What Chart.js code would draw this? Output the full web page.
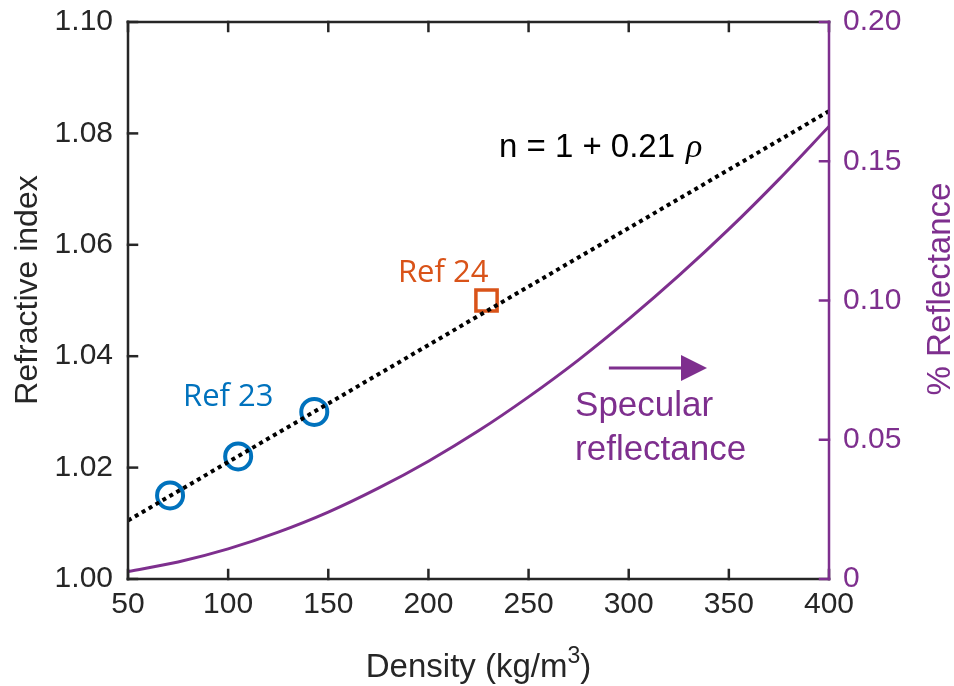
<!DOCTYPE html>
<html>
<head>
<meta charset="utf-8">
<script src="https://cdn.jsdelivr.net/npm/chart.js@4.4.1/dist/chart.umd.min.js"></script>
<style>
  html, body { margin: 0; padding: 0; background: #fff; }
  #wrap { width: 954px; height: 686px; position: relative; }
</style>
</head>
<body>
<div id="wrap"><canvas id="chart"></canvas></div>
<script>
// Density axis ticks (kg/m^3) and the two y-axis tick sets
const DENSITY_TICKS     = [50, 100, 150, 200, 250, 300, 350, 400];
const INDEX_TICKS       = [1.00, 1.02, 1.04, 1.06, 1.08, 1.10];
const REFLECTANCE_TICKS = [0, 0.05, 0.10, 0.15, 0.20];

// Linear fit n = 1 + 0.21 rho
const FIT_DENSITY = [50, 400];
const FIT_INDEX   = [1.0105, 1.084];

// Specular reflectance (%) along the density range
const CURVE_DENSITY     = [50, 75, 100, 125, 150, 175, 200, 225, 250, 275, 300, 325, 350, 375, 400];
const CURVE_REFLECTANCE = [0.0027, 0.0061, 0.0108, 0.0168, 0.0240, 0.0326, 0.0423, 0.0532,
                           0.0654, 0.0787, 0.0933, 0.1089, 0.1256, 0.1435, 0.1625];

// Measured points
const REF23_DENSITY = [71, 105, 143];
const REF23_INDEX   = [1.015, 1.022, 1.030];
const REF24_DENSITY = [229];
const REF24_INDEX   = [1.050];

const INK    = '#262626';
const PURPLE = '#7E2F8E';
const BLUE   = '#0072BD';
const ORANGE = '#D95319';
const SANS   = '"Liberation Sans", Arial, sans-serif';

const pts = (xs, ys) => xs.map((x, i) => ({ x, y: ys[i] }));
const fixTicks = (values) => (scale) => { scale.ticks = values.map((v) => ({ value: v })); };
const noEdgePadding = (s) => {
    s.paddingTop = 0; s.paddingBottom = 0; s.paddingLeft = 0; s.paddingRight = 0;
};

// Text labels placed in data units (density, refractive index)
const LABELS = [
    { text: 'Ref 24',      x: 184.8, y: 1.0533, color: ORANGE, font: '31px "Open Sans", sans-serif' },
    { text: 'Ref 23',      x: 77.5,  y: 1.0311, color: BLUE,   font: '31px "Open Sans", sans-serif' },
    { text: 'Specular',    x: 273.2, y: 1.0293, color: PURPLE, font: '35px ' + SANS },
    { text: 'reflectance', x: 273.2, y: 1.0214, color: PURPLE, font: '35px ' + SANS }
];
const FIT_LABEL = { x: 235.2, y: 1.0758 };
const ARROW     = { from: 290.1, to: 339.1, y: 1.0379 };

const annotations = {
    id: 'annotations',
    afterDatasetsDraw(chart) {
        const { ctx, scales: { x, y } } = chart;
        ctx.save();
        ctx.textBaseline = 'alphabetic';
        ctx.textAlign = 'left';

        LABELS.forEach((l) => {
            ctx.font = l.font;
            ctx.fillStyle = l.color;
            ctx.fillText(l.text, x.getPixelForValue(l.x), y.getPixelForValue(l.y));
        });

        // fit equation, rho set in italic serif
        const fx = x.getPixelForValue(FIT_LABEL.x);
        const fy = y.getPixelForValue(FIT_LABEL.y);
        ctx.font = '33px ' + SANS;
        ctx.fillStyle = '#000';
        const eq = 'n = 1 + 0.21';
        ctx.fillText(eq, fx, fy);
        const w = ctx.measureText(eq).width;
        ctx.font = 'italic 34px "Liberation Serif", "DejaVu Serif", serif';
        ctx.fillText('\u03C1', fx + w + 11, fy);

        // arrow pointing at the right-hand axis
        const ax0 = x.getPixelForValue(ARROW.from);
        const ax1 = x.getPixelForValue(ARROW.to);
        const ay  = y.getPixelForValue(ARROW.y);
        ctx.strokeStyle = PURPLE;
        ctx.fillStyle = PURPLE;
        ctx.lineWidth = 3;
        ctx.beginPath();
        ctx.moveTo(ax0, ay);
        ctx.lineTo(ax1 - 24, ay);
        ctx.stroke();
        ctx.beginPath();
        ctx.moveTo(ax1, ay);
        ctx.lineTo(ax1 - 26, ay - 13);
        ctx.lineTo(ax1 - 26, ay + 13);
        ctx.closePath();
        ctx.fill();
        ctx.restore();
    }
};

// Box frame with inward tick marks, right axis in purple, and axis titles
const frame = {
    id: 'frame',
    afterDraw(chart) {
        const { ctx, chartArea: a, scales: { x, y, y2 } } = chart;
        const TICK = 9;
        const seg = (x0, y0, x1, y1) => { ctx.beginPath(); ctx.moveTo(x0, y0); ctx.lineTo(x1, y1); ctx.stroke(); };
        ctx.save();
        ctx.lineWidth = 2.5;
        ctx.lineCap = 'square';

        ctx.strokeStyle = INK;
        DENSITY_TICKS.forEach((v) => {
            const px = x.getPixelForValue(v);
            seg(px, a.bottom, px, a.bottom - TICK);
            seg(px, a.top, px, a.top + TICK);
        });
        INDEX_TICKS.forEach((v) => {
            const py = y.getPixelForValue(v);
            seg(a.left, py, a.left + TICK, py);
        });
        seg(a.left, a.top, a.right, a.top);
        seg(a.left, a.bottom, a.right, a.bottom);
        seg(a.left, a.top, a.left, a.bottom);

        ctx.strokeStyle = PURPLE;
        REFLECTANCE_TICKS.forEach((v) => {
            const py = y2.getPixelForValue(v);
            seg(a.right, py, a.right - TICK, py);
        });
        seg(a.right, a.top, a.right, a.bottom);

        // x title with a raised exponent
        ctx.textBaseline = 'alphabetic';
        ctx.textAlign = 'left';
        ctx.fillStyle = INK;
        const main = '33px ' + SANS, sup = '23px ' + SANS;
        ctx.font = main;
        const w1 = ctx.measureText('Density (kg/m').width;
        const w3 = ctx.measureText(')').width;
        ctx.font = sup;
        const w2 = ctx.measureText('3').width;
        let tx = (a.left + a.right) / 2 - (w1 + w2 + w3) / 2;
        ctx.font = main;
        ctx.fillText('Density (kg/m', tx, 677);
        ctx.font = sup;
        ctx.fillText('3', tx + w1, 663);
        ctx.font = main;
        ctx.fillText(')', tx + w1 + w2, 677);

        ctx.textAlign = 'center';
        ctx.font = '32px ' + SANS;
        ctx.save();
        ctx.translate(37, 290);
        ctx.rotate(-Math.PI / 2);
        ctx.fillText('Refractive index', 0, 0);
        ctx.restore();

        ctx.font = '33px ' + SANS;
        ctx.fillStyle = PURPLE;
        ctx.save();
        ctx.translate(950, 289);
        ctx.rotate(-Math.PI / 2);
        ctx.fillText('% Reflectance', 0, 0);
        ctx.restore();
        ctx.restore();
    }
};

new Chart(document.getElementById('chart'), {
    type: 'scatter',
    data: {
        datasets: [
            {
                label: 'n = 1 + 0.21 rho',
                data: pts(FIT_DENSITY, FIT_INDEX),
                yAxisID: 'y',
                showLine: true,
                borderColor: '#000',
                borderWidth: 4,
                borderDash: [4, 4],
                pointRadius: 0
            },
            {
                label: 'Ref 23',
                data: pts(REF23_DENSITY, REF23_INDEX),
                yAxisID: 'y',
                pointStyle: 'circle',
                pointRadius: 13,
                pointBorderWidth: 4,
                borderColor: BLUE,
                backgroundColor: 'rgba(0,0,0,0)'
            },
            {
                label: 'Ref 24',
                data: pts(REF24_DENSITY, REF24_INDEX),
                yAxisID: 'y',
                pointStyle: 'rect',
                pointRadius: 15,
                pointBorderWidth: 3.5,
                borderColor: ORANGE,
                backgroundColor: 'rgba(0,0,0,0)'
            },
            {
                label: 'Specular reflectance',
                data: pts(CURVE_DENSITY, CURVE_REFLECTANCE),
                yAxisID: 'y2',
                showLine: true,
                borderColor: PURPLE,
                borderWidth: 3,
                cubicInterpolationMode: 'monotone',
                pointRadius: 0
            }
        ]
    },
    options: {
        responsive: true,
        maintainAspectRatio: false,
        animation: false,
        events: [],
        layout: { padding: { top: 22, left: 0, right: 0, bottom: 0 } },
        plugins: { legend: { display: false }, tooltip: { enabled: false } },
        scales: {
            x: {
                type: 'linear',
                min: 50,
                max: 400,
                afterBuildTicks: fixTicks(DENSITY_TICKS),
                afterFit: (s) => { s.height = 107; noEdgePadding(s); },
                grid: { display: false, drawTicks: false },
                border: { display: false },
                ticks: { color: INK, font: { family: SANS, size: 30 }, padding: 8, maxRotation: 0 }
            },
            y: {
                type: 'linear',
                position: 'left',
                min: 1.0,
                max: 1.1,
                afterBuildTicks: fixTicks(INDEX_TICKS),
                afterFit: (s) => { s.width = 128; noEdgePadding(s); },
                grid: { display: false, drawTicks: false },
                border: { display: false },
                ticks: {
                    color: INK,
                    font: { family: SANS, size: 30 },
                    padding: 15,
                    callback: (v) => v.toFixed(2)
                }
            },
            y2: {
                type: 'linear',
                position: 'right',
                min: 0,
                max: 0.2,
                afterBuildTicks: fixTicks(REFLECTANCE_TICKS),
                afterFit: (s) => { s.width = 125; noEdgePadding(s); },
                grid: { display: false, drawTicks: false },
                border: { display: false },
                ticks: {
                    color: PURPLE,
                    font: { family: SANS, size: 30 },
                    padding: 14,
                    callback: (v) => (v === 0 ? '0' : v.toFixed(2))
                }
            }
        }
    },
    plugins: [annotations, frame]
});
</script>
</body>
</html>
